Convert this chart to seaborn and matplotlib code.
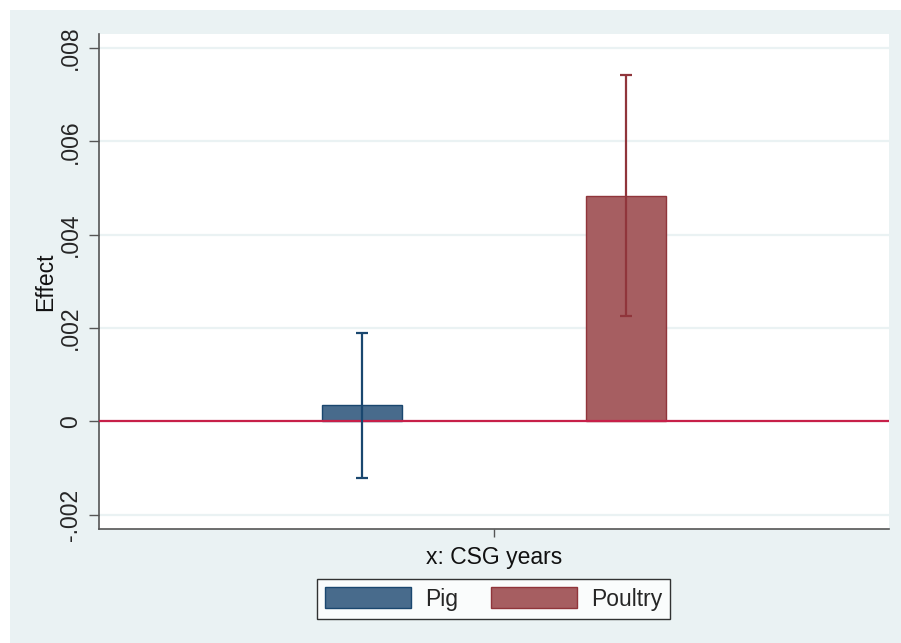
import matplotlib
matplotlib.use("Agg")
import matplotlib.pyplot as plt
from matplotlib.patches import Rectangle, Patch
import numpy as np
import pandas as pd
import seaborn as sns

# Estimated effects with 95% confidence bounds
groups = ["Pig", "Poultry"]
effect = [0.00035, 0.00483]
ci_low = [-0.00121, 0.00226]
ci_high = [0.00189, 0.00742]
x_label = "x: CSG years"
y_ticks = [-0.002, 0.0, 0.002, 0.004, 0.006, 0.008]
y_tick_labels = ["-.002", "0", ".002", ".004", ".006", ".008"]

fills = ["#486B8C", "#A65E61"]
edges = ["#1A476F", "#90353B"]
bg = "#EAF2F3"
fs = 16.5

sns.set_theme(style="white")
plt.rcParams["font.family"] = ["Liberation Sans", "DejaVu Sans"]

fig = plt.figure(figsize=(9.01, 6.43), dpi=100, facecolor="white")
fig.patches.append(Rectangle((10 / 901, 0), 1 - 10 / 901, 1 - 10 / 643,
                             transform=fig.transFigure, facecolor=bg,
                             edgecolor="none", zorder=-10))
ax = fig.add_axes([99 / 901, 1 - 529 / 643, (889 - 99) / 901, (529 - 34) / 643])
ax.set_facecolor("white")

df = pd.DataFrame({"x": [x_label] * len(groups), "group": groups, "effect": effect})
sns.barplot(data=df, x="x", y="effect", hue="group", hue_order=groups,
            palette=fills, saturation=1, width=0.8, gap=0.696, errorbar=None,
            linewidth=1.0, legend=False, ax=ax, zorder=3)

# Outline colours and confidence intervals per series
bar_containers = list(ax.containers)
for i, cont in enumerate(bar_containers):
    for bar in cont.patches:
        bar.set_edgecolor(edges[i])
        cx = bar.get_x() + bar.get_width() / 2
        ax.errorbar([cx], [effect[i]],
                    yerr=[[effect[i] - ci_low[i]], [ci_high[i] - effect[i]]],
                    fmt="none", ecolor=edges[i], elinewidth=1.6,
                    capsize=4, capthick=1.6, zorder=5)

ax.set_xlim(-0.6, 0.6)
ax.set_ylim(-0.002306, 0.0083)

# Grid and zero reference line
for yt in y_ticks:
    ax.axhline(yt, color=bg, lw=1.6, zorder=0)
ax.axhline(0, color="#C72049", lw=1.6, zorder=4)

ax.set_yticks(y_ticks)
ax.set_yticklabels(y_tick_labels, fontsize=fs)
for lab in ax.get_yticklabels():
    lab.set_rotation(90)
    lab.set_va("center")
    lab.set_ha("right")
ax.set_xticks([0])
ax.set_xticklabels([""])
ax.tick_params(axis="y", length=7.5, width=1, color="#555555", pad=5, left=True)
ax.tick_params(axis="x", length=6, width=1, color="#555555", bottom=True)

ax.set_xlabel(x_label, fontsize=fs, labelpad=3, color="#111111")
ax.set_ylabel("Effect", fontsize=fs, labelpad=1, color="#111111")

for side in ["top", "right"]:
    ax.spines[side].set_visible(False)
for side in ["left", "bottom"]:
    ax.spines[side].set_color("#555555")
    ax.spines[side].set_linewidth(1.2)

handles = [Patch(facecolor=fills[i], edgecolor=edges[i], linewidth=1) for i in range(len(groups))]
leg = fig.legend(handles, groups, loc="center", bbox_to_anchor=(493.5 / 901, 1 - 599 / 643),
                 ncol=2, fontsize=fs, frameon=True, fancybox=False,
                 handlelength=3.75, handleheight=1.0, handletextpad=0.6,
                 columnspacing=1.45, borderpad=0.35, borderaxespad=0)
leg.get_frame().set_edgecolor("black")
leg.get_frame().set_linewidth(1)
leg.get_frame().set_facecolor("white")

fig.savefig("out.png", dpi=100, facecolor="white")
